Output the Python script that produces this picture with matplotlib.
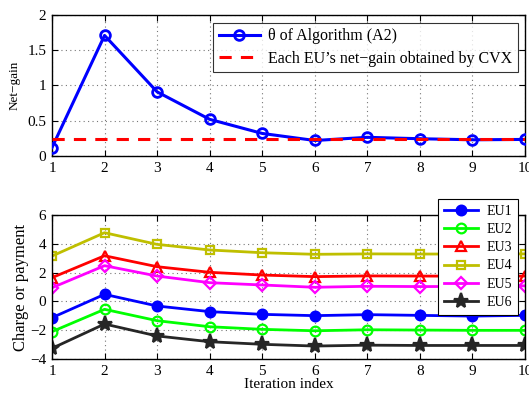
import numpy as np
import matplotlib.pyplot as plt

plt.rcParams['font.family'] = ['Liberation Serif', 'DejaVu Serif']

iters = np.arange(1, 11)

# top panel
theta = [0.12, 1.71, 0.91, 0.52, 0.32, 0.22, 0.265, 0.245, 0.23, 0.235]
cvx_gain = 0.24

# bottom panel: charge / payment per EU
eu1 = [-1.13, 0.49, -0.32, -0.71, -0.90, -0.99, -0.92, -0.97, -1.02, -0.97]
eu2 = [-2.10, -0.55, -1.34, -1.76, -1.94, -2.04, -1.97, -1.99, -2.01, -2.01]
eu3 = [1.65, 3.17, 2.41, 2.02, 1.83, 1.72, 1.77, 1.76, 1.75, 1.76]
eu4 = [3.15, 4.77, 3.96, 3.57, 3.38, 3.27, 3.30, 3.29, 3.29, 3.30]
eu5 = [0.95, 2.48, 1.76, 1.30, 1.14, 0.98, 1.05, 1.03, 1.04, 1.08]
eu6 = [-3.26, -1.57, -2.40, -2.80, -2.98, -3.10, -3.04, -3.06, -3.06, -3.06]

eu_data = [eu1, eu2, eu3, eu4, eu5, eu6]
eu_names = ['EU1', 'EU2', 'EU3', 'EU4', 'EU5', 'EU6']
eu_colors = ['#0000ff', '#00ff00', '#ff0000', '#bfbf00', '#ff00ff', '#262626']
eu_markers = ['o', 'o', '^', 's', 'D', '*']
eu_filled = [True, False, False, False, False, True]

fig = plt.figure(figsize=(5.29, 3.98), dpi=100)
ax1 = fig.add_axes([52 / 529, 1 - 156 / 398, 473 / 529, 141 / 398])
ax2 = fig.add_axes([52 / 529, 1 - 359 / 398, 473 / 529, 144 / 398])

ax1.plot(iters, theta, color='blue', lw=2.2, marker='o', ms=7, mfc='none', mew=2,
         label='\u03b8 of Algorithm (A2)', zorder=3)
ax1.plot([1, 10], [cvx_gain, cvx_gain], color='red', lw=2.2, ls=(0, (4, 3)),
         label='Each EU\u2019s net\u2212gain obtained by CVX', zorder=4)
ax1.set_xlim(1, 10)
ax1.set_ylim(0, 2)
ax1.set_yticks([0, 0.5, 1, 1.5, 2])
ax1.set_yticklabels(['0', '0.5', '1', '1.5', '2'])
ax1.set_ylabel('Net\u2212gain', fontsize=9.5, labelpad=5)
leg1 = ax1.legend(loc='upper right', bbox_to_anchor=(0.985, 0.945), borderaxespad=0,
                  fontsize=11.5, fancybox=False, edgecolor='black', handlelength=2.6,
                  borderpad=0.35, labelspacing=0.4, handletextpad=0.5)
leg1.get_frame().set_linewidth(0.8)

for d, name, c, m, f in zip(eu_data, eu_names, eu_colors, eu_markers, eu_filled):
    ms = 11 if m == '*' else (6 if m in ('s', 'D') else 7)
    ax2.plot(iters, d, color=c, lw=2, marker=m, ms=ms, mfc=c if f else 'none',
             mew=1.6, label=name)
ax2.set_xlim(1, 10)
ax2.set_ylim(-4, 6)
ax2.set_yticks([-4, -2, 0, 2, 4, 6])
ax2.set_yticklabels(['\u22124', '\u22122', '0', '2', '4', '6'])
ax2.set_ylabel('Charge or payment', fontsize=12, labelpad=1)
ax2.set_xlabel('Iteration index', fontsize=11, labelpad=0)
leg2 = ax2.legend(loc='upper right', bbox_to_anchor=(0.985, 1.111), borderaxespad=0,
                  fontsize=10, fancybox=False, edgecolor='black', handlelength=2.5,
                  borderpad=0.4, labelspacing=0.38, handletextpad=0.6, framealpha=1)
leg2.get_frame().set_linewidth(0.8)

for ax in (ax1, ax2):
    ax.set_xticks(iters)
    ax.grid(True, ls=(0, (1, 3)), color='#777777', lw=0.8)
    ax.tick_params(direction='in', labelsize=11, length=4, pad=4, top=True, right=True)
    for s in ax.spines.values():
        s.set_linewidth(1)

fig.savefig('out.png', dpi=100)
